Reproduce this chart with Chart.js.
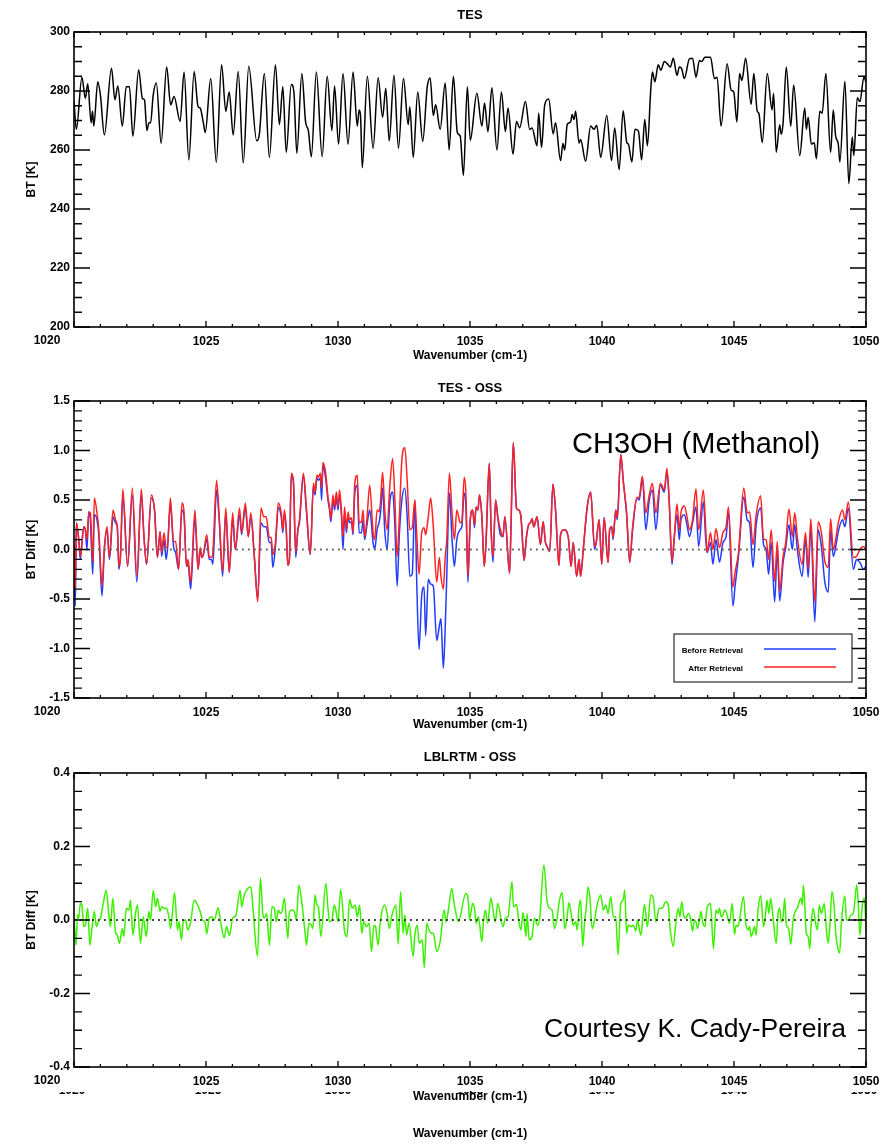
<!DOCTYPE html>
<html>
<head>
<meta charset="utf-8">
<script src="https://cdn.jsdelivr.net/npm/chart.js@4.4.1/dist/chart.umd.min.js"></script>
<style>
  body { margin: 0; background: #fff; width: 881px; height: 1144px; position: relative; overflow: hidden;
         font-family: "Liberation Sans", Arial, Helvetica, sans-serif; }
  .panel { position: absolute; left: 0; width: 881px; }
  .nota { position: absolute; color: #000; white-space: nowrap; line-height: 1; }
  .corte { position: absolute; left: 0; width: 881px; overflow: hidden; }
  .corte span { position: absolute; font-weight: bold; font-size: 12px; transform: translateX(-50%); line-height: 1; }
  .ejeX { position: absolute; font-weight: bold; font-size: 12px; transform: translateX(-50%); white-space: nowrap; line-height: 1; }
</style>
</head>
<body>
<div class="panel" style="top:0;height:372px"><canvas id="tes"></canvas></div>
<div class="panel" style="top:372px;height:370px"><canvas id="oss"></canvas></div>
<div class="panel" style="top:742px;height:402px"><canvas id="lbl"></canvas></div>

<div class="nota" style="left:572px;top:429px;font-size:29px">CH3OH (Methanol)</div>
<div class="nota" style="left:544px;top:1015px;font-size:26.5px">Courtesy K. Cady-Pereira</div>

<div class="corte" id="corte" style="top:1092px;height:4px"></div>
<div class="ejeX" style="left:470px;top:1127px">Wavenumber (cm-1)</div>

<script>
// DATOS
// TES: temperatura de brillo (K)
const tesWn = [
  1020.00,1020.09,1020.30,1020.43,1020.52,1020.65,1020.70,1020.75,1020.90,1021.00,1021.15,1021.42,1021.55,1021.66,1021.83,1021.98,1022.10,1022.23,1022.45,1022.59,1022.67,1022.76,1022.84,1022.90,1023.00,1023.12,1023.30,1023.51,1023.66,1023.79,1024.02,1024.17,1024.35,1024.55,1024.70,1024.78,1024.90,1024.97,1025.18,1025.39,1025.59,1025.75,1025.88,1026.03,1026.22,1026.41,1026.62,1026.92,1027.02,1027.21,1027.40,
  1027.63,1027.78,1027.91,1028.04,1028.23,1028.33,1028.44,1028.63,1028.77,1028.88,1028.99,1029.18,1029.40,1029.59,1029.77,1029.87,1030.02,1030.19,1030.38,1030.57,1030.73,1030.80,1030.85,1030.92,1031.11,1031.33,1031.52,1031.69,1031.81,1031.94,1032.12,1032.29,1032.48,1032.66,1032.72,1032.85,1033.02,1033.21,1033.38,1033.49,1033.61,1033.70,1033.87,1034.06,1034.21,1034.37,1034.52,1034.63,1034.75,1034.90,
  1035.01,1035.26,1035.45,1035.55,1035.68,1035.83,1036.02,1036.19,1036.34,1036.44,1036.63,1036.76,1036.88,1037.10,1037.26,1037.35,1037.54,1037.60,1037.71,1037.83,1037.98,1038.15,1038.24,1038.43,1038.52,1038.59,1038.68,1038.81,1038.87,1038.94,1039.00,1039.13,1039.19,1039.38,1039.57,1039.70,1039.80,1039.95,1040.18,1040.36,1040.48,1040.65,1040.80,1040.94,1041.00,1041.13,1041.25,1041.38,1041.50,1041.62,1041.72,1041.85,1041.91,1042.00,1042.13,1042.23,1042.36,
  1042.48,1042.59,1042.70,1042.84,1042.93,1043.02,1043.12,1043.31,1043.43,1043.56,1043.69,1043.78,1043.90,1044.11,1044.26,1044.36,1044.51,1044.74,1044.89,1044.99,1045.11,1045.21,1045.30,1045.44,1045.65,1045.75,1045.88,1045.94,1046.07,1046.26,1046.44,1046.50,1046.60,1046.73,1046.79,1046.86,1046.98,1047.15,1047.26,1047.49,1047.68,1047.74,1047.81,1047.93,1048.04,1048.12,1048.25,1048.34,1048.48,1048.66,1048.76,1048.85,1048.95,1049.01,1049.20,1049.35,1049.48,1049.54,1049.67,1049.77,1049.92,1050.00
]
const tesBT = [
  276.4,267.0,284.7,277.5,282.5,269.2,273.1,268.1,283.1,278.6,265.1,287.7,277.0,281.7,268.1,281.4,281.4,264.7,287.2,277.5,277.0,266.6,269.2,269.2,278.6,282.7,262.3,288.1,275.3,278.1,269.7,286.4,256.6,286.6,274.7,274.2,269.2,265.9,284.2,255.8,288.9,273.1,279.7,265.1,286.6,255.6,288.4,263.1,265.3,285.9,257.5,
  288.9,268.6,281.4,259.2,282.2,279.7,258.9,285.9,269.7,266.4,257.7,286.4,257.7,285.0,266.6,281.7,262.0,285.9,262.0,286.4,268.1,273.6,272.0,254.0,285.0,260.6,284.5,271.1,280.9,263.1,285.3,260.6,284.2,268.6,274.7,257.5,279.7,262.9,281.4,284.4,271.7,275.3,267.0,282.7,260.0,285.0,265.9,264.7,251.4,281.4,
  263.3,279.2,268.1,275.9,266.2,281.1,260.0,279.7,266.2,274.2,258.6,269.7,267.5,276.4,267.0,267.5,261.4,272.5,260.9,275.3,277.3,265.5,269.2,256.4,262.2,260.0,268.6,269.5,272.0,270.3,273.1,262.3,263.6,256.2,268.1,267.0,268.4,257.5,271.7,256.4,267.5,253.3,273.3,262.5,262.0,255.9,267.0,266.4,256.6,270.3,261.4,280.9,286.4,283.1,288.9,287.0,290.0,
  289.2,288.1,291.1,285.3,288.1,287.5,284.2,290.9,291.1,284.7,290.3,290.0,291.4,291.4,284.2,284.7,268.1,289.2,280.3,279.7,269.5,285.9,283.6,291.1,275.5,285.9,273.1,272.5,262.5,285.9,273.6,279.2,259.2,268.6,265.3,269.2,288.1,268.1,282.0,258.1,274.2,267.0,271.1,262.0,262.5,257.0,273.1,272.5,285.9,259.2,273.6,264.7,262.0,255.9,283.3,248.6,264.4,258.1,277.7,276.4,284.7,283.0
]

// TES - OSS: diferencia antes / despues de la recuperacion (K)
const ossWn = [
  1020.00,1020.05,1020.09,1020.18,1020.24,1020.37,1020.43,1020.49,1020.56,1020.62,1020.71,1020.77,1020.87,1020.94,1021.06,1021.15,1021.25,1021.34,1021.48,1021.57,1021.64,1021.70,1021.76,1021.85,1022.03,1022.21,1022.38,1022.55,1022.65,1022.75,1022.93,1023.05,1023.16,1023.26,1023.32,1023.41,1023.49,1023.54,1023.65,1023.77,1023.85,1023.96,1024.09,1024.17,1024.26,1024.32,1024.42,1024.58,1024.70,1024.78,1024.84,1024.90,1025.03,1025.12,1025.21,1025.26,1025.40,1025.50,1025.63,1025.75,1025.88,1026.01,1026.11,1026.27,1026.35,1026.49,1026.60,1026.70,1026.83,1026.96,1027.08,1027.19,1027.28,1027.40,
  1027.47,1027.53,1027.63,1027.74,1027.85,1027.91,1027.97,1028.04,1028.10,1028.16,1028.23,1028.31,1028.40,1028.48,1028.54,1028.69,1028.80,1028.95,1029.07,1029.13,1029.20,1029.26,1029.33,1029.38,1029.43,1029.53,1029.62,1029.68,1029.73,1029.81,1029.87,1029.94,1030.00,1030.06,1030.13,1030.19,1030.25,1030.32,1030.38,1030.44,1030.51,1030.57,1030.63,1030.73,1030.80,1030.89,1030.95,1031.01,1031.10,1031.20,1031.33,1031.39,1031.48,1031.56,1031.61,1031.69,1031.77,1031.86,1031.96,1032.07,1032.15,1032.24,1032.32,1032.41,1032.53,1032.62,1032.72,1032.81,1032.91,1032.98,1033.07,1033.17,1033.26,1033.32,1033.42,1033.51,1033.61,1033.74,1033.84,1033.90,1033.99,1034.06,1034.12,1034.22,1034.32,1034.41,1034.50,1034.63,1034.69,1034.78,1034.85,1034.92,
  1035.01,1035.10,1035.17,1035.23,1035.30,1035.36,1035.45,1035.54,1035.61,1035.73,1035.80,1035.87,1035.97,1036.06,1036.15,1036.25,1036.32,1036.50,1036.55,1036.64,1036.76,1036.84,1036.93,1037.05,1037.14,1037.22,1037.29,1037.35,1037.42,1037.54,1037.67,1037.77,1037.86,1037.92,1038.02,1038.14,1038.24,1038.37,1038.43,1038.56,1038.72,1038.83,1038.91,1039.04,1039.13,1039.19,1039.29,1039.44,1039.57,1039.72,1039.78,1039.89,1039.99,1040.08,1040.23,1040.29,1040.37,1040.42,1040.52,1040.58,1040.71,1040.81,1040.93,1041.05,1041.15,1041.32,1041.41,1041.53,1041.66,1041.79,1041.91,1042.04,1042.21,1042.36,1042.46,1042.55,
  1042.65,1042.74,1042.84,1042.93,1042.99,1043.12,1043.22,1043.31,1043.43,1043.56,1043.66,1043.84,1043.93,1043.98,1044.11,1044.20,1044.32,1044.45,1044.58,1044.70,1044.79,1044.96,1045.04,1045.17,1045.37,1045.50,1045.59,1045.72,1045.84,1046.01,1046.12,1046.22,1046.31,1046.41,1046.54,1046.64,1046.73,1046.86,1046.96,1047.08,1047.21,1047.30,1047.40,1047.58,1047.71,1047.81,1047.91,1048.06,1048.19,1048.31,1048.44,1048.57,1048.66,1048.76,1048.88,1048.95,1049.11,1049.20,1049.33,1049.52,1049.64,1049.77,1049.90,1050.00
]
const antesRet = [
  0.00,-0.57,0.27,0.10,-0.10,0.23,0.20,0.00,0.38,0.30,-0.25,0.35,0.30,0.15,-0.47,0.00,0.20,-0.10,0.33,0.27,0.23,-0.20,-0.07,0.55,-0.17,0.55,-0.33,0.55,0.13,-0.15,0.52,0.40,-0.08,0.18,-0.07,0.10,-0.10,0.00,0.45,0.03,-0.03,-0.20,0.40,0.33,-0.17,-0.15,-0.40,0.33,-0.20,0.00,-0.08,-0.05,0.10,-0.10,-0.10,-0.15,0.60,0.30,-0.27,0.37,-0.23,0.30,0.00,0.35,0.15,0.43,0.13,0.33,-0.07,-0.50,0.27,0.23,0.23,0.07,
  0.07,-0.18,0.03,0.43,0.33,0.17,0.37,0.20,-0.16,-0.10,0.75,0.68,-0.08,0.20,0.27,0.75,0.40,-0.05,0.65,0.55,0.72,0.70,0.72,0.50,0.85,0.72,0.50,0.40,0.28,0.50,0.40,0.52,0.40,0.55,0.35,0.00,0.37,0.17,0.33,0.27,0.28,0.15,0.55,0.65,0.17,0.17,0.30,0.10,0.25,0.40,0.07,0.00,0.20,0.28,0.37,0.62,0.20,0.00,0.47,0.58,0.27,-0.37,0.13,0.48,0.62,0.33,-0.27,-0.25,0.50,-0.30,-1.01,-0.47,-0.38,-0.87,-0.30,-0.35,-0.37,-0.92,-0.77,-0.70,-1.20,-0.80,-0.27,0.57,0.10,-0.17,0.10,0.20,0.23,0.57,0.40,-0.33,
  0.30,0.40,0.22,0.43,0.40,0.55,0.33,-0.17,0.10,0.87,0.20,-0.13,0.50,0.30,0.15,0.13,0.33,-0.24,0.20,1.08,0.42,0.40,0.33,-0.11,0.13,0.25,0.27,0.31,0.23,0.33,0.05,0.28,0.07,0.03,-0.02,0.66,0.40,-0.16,0.15,0.20,0.13,-0.17,0.07,-0.27,-0.10,-0.27,0.00,0.43,0.58,0.00,0.07,0.30,-0.15,0.32,-0.13,0.20,0.23,0.10,0.40,0.30,0.96,0.68,0.37,-0.13,0.17,0.52,0.50,0.72,0.20,0.50,0.60,0.20,0.65,0.58,0.80,0.45,
  -0.15,0.13,0.35,0.10,0.30,0.35,0.25,0.13,0.27,0.43,0.03,0.48,0.10,-0.03,0.07,-0.15,0.10,-0.13,0.07,0.13,0.37,-0.57,-0.37,-0.07,0.53,0.30,0.27,-0.18,0.25,0.42,0.05,0.00,-0.25,0.07,-0.53,0.00,-0.52,-0.13,0.02,0.25,0.00,0.25,0.00,-0.27,0.10,-0.28,0.23,-0.73,0.20,0.03,-0.33,-0.43,0.20,-0.07,0.07,0.18,0.30,0.23,0.42,-0.20,-0.10,-0.13,-0.20,-0.17
]
const despuesRet = [
  0.05,-0.40,0.27,0.10,-0.07,0.23,0.20,0.10,0.38,0.37,-0.13,0.52,0.37,0.20,-0.37,0.02,0.23,-0.08,0.40,0.30,0.23,-0.17,-0.07,0.61,-0.17,0.62,-0.27,0.61,0.13,-0.15,0.55,0.40,-0.08,0.18,-0.03,0.17,0.02,0.02,0.52,0.08,0.08,-0.20,0.47,0.37,-0.17,-0.10,-0.33,0.40,-0.20,0.02,-0.08,-0.05,0.15,-0.07,-0.08,-0.03,0.70,0.33,-0.22,0.42,-0.23,0.37,0.00,0.42,0.17,0.47,0.13,0.37,-0.07,-0.53,0.42,0.33,0.33,0.12,
  0.12,-0.05,0.07,0.47,0.37,0.20,0.40,0.20,-0.16,-0.10,0.77,0.70,-0.03,0.20,0.30,0.77,0.43,-0.05,0.67,0.58,0.75,0.73,0.77,0.62,0.88,0.78,0.53,0.43,0.31,0.55,0.43,0.58,0.43,0.60,0.38,0.13,0.43,0.20,0.38,0.30,0.32,0.17,0.65,0.75,0.27,0.28,0.40,0.13,0.32,0.65,0.17,0.10,0.40,0.38,0.48,0.78,0.40,0.20,0.63,0.92,0.53,-0.07,0.30,0.87,1.03,0.70,0.20,0.22,0.50,0.17,-0.25,0.17,0.22,0.15,0.33,0.52,0.23,-0.33,-0.08,-0.27,-0.40,-0.08,0.10,0.77,0.37,0.10,0.40,0.27,0.28,0.73,0.53,-0.27,
  0.30,0.40,0.25,0.43,0.40,0.55,0.33,-0.17,0.10,0.87,0.20,-0.07,0.50,0.32,0.20,0.13,0.33,-0.24,0.20,1.08,0.42,0.40,0.33,-0.11,0.13,0.25,0.27,0.31,0.23,0.33,0.05,0.28,0.07,0.03,-0.02,0.66,0.40,-0.16,0.15,0.20,0.13,-0.17,0.07,-0.27,-0.10,-0.27,0.00,0.43,0.58,0.03,0.07,0.30,-0.15,0.32,-0.13,0.20,0.23,0.12,0.40,0.32,0.96,0.68,0.37,-0.13,0.20,0.52,0.53,0.74,0.37,0.55,0.67,0.37,0.67,0.60,0.82,0.47,
  -0.12,0.13,0.46,0.20,0.37,0.44,0.33,0.20,0.30,0.61,0.20,0.60,0.20,-0.03,0.17,0.00,0.21,0.02,0.17,0.23,0.43,-0.38,-0.23,-0.03,0.62,0.37,0.38,0.05,0.35,0.54,0.10,0.10,-0.10,0.20,-0.32,0.08,-0.42,-0.07,0.07,0.41,0.13,0.37,0.12,-0.15,0.17,-0.20,0.31,-0.53,0.28,0.17,-0.12,-0.18,0.31,0.00,0.15,0.27,0.40,0.30,0.48,-0.08,-0.07,0.00,0.03,0.00
]

// LBLRTM - OSS (K)
const lblWn = [
  1020.00,1020.04,1020.08,1020.13,1020.18,1020.24,1020.30,1020.37,1020.43,1020.52,1020.60,1020.68,1020.77,1020.85,1020.94,1021.00,1021.10,1021.22,1021.32,1021.38,1021.47,1021.57,1021.64,1021.72,1021.83,1021.89,1021.98,1022.08,1022.14,1022.23,1022.33,1022.40,1022.52,1022.62,1022.74,1022.83,1022.90,1023.00,1023.09,1023.16,1023.26,1023.32,1023.41,1023.51,1023.60,1023.66,1023.81,1023.92,1023.98,1024.07,1024.14,1024.23,1024.30,1024.42,1024.55,1024.68,1024.78,1024.87,1024.96,1025.03,1025.12,1025.21,1025.31,1025.46,1025.56,1025.69,1025.78,1025.89,1026.01,1026.13,1026.29,1026.35,1026.45,1026.58,1026.70,1026.78,1026.95,1027.06,1027.15,1027.21,1027.30,1027.40,1027.50,
  1027.59,1027.66,1027.74,1027.81,1027.88,1027.97,1028.10,1028.16,1028.26,1028.35,1028.42,1028.52,1028.64,1028.73,1028.81,1028.90,1028.99,1029.05,1029.13,1029.20,1029.26,1029.35,1029.54,1029.62,1029.68,1029.77,1029.86,1029.94,1030.00,1030.10,1030.25,1030.34,1030.44,1030.54,1030.65,1030.73,1030.82,1030.90,1030.98,1031.08,1031.18,1031.27,1031.36,1031.42,1031.52,1031.61,1031.77,1031.86,1031.94,1032.03,1032.19,1032.28,1032.37,1032.47,1032.53,1032.60,1032.69,1032.85,1032.91,1033.00,1033.08,1033.19,1033.27,1033.36,1033.45,1033.52,1033.61,1033.74,1033.87,1034.02,1034.09,1034.18,1034.31,1034.40,1034.56,1034.84,1034.94,
  1034.98,1035.03,1035.10,1035.17,1035.23,1035.32,1035.45,1035.51,1035.58,1035.67,1035.79,1035.89,1035.96,1036.05,1036.25,1036.34,1036.44,1036.59,1036.65,1036.76,1036.84,1036.93,1037.01,1037.12,1037.16,1037.24,1037.35,1037.44,1037.57,1037.64,1037.80,1037.92,1038.02,1038.11,1038.20,1038.30,1038.39,1038.49,1038.59,1038.68,1038.75,1038.83,1038.91,1039.00,1039.06,1039.13,1039.19,1039.27,1039.34,1039.40,1039.47,1039.54,1039.63,1039.72,1039.80,1039.95,1040.05,1040.14,1040.23,1040.33,1040.43,1040.52,1040.61,1040.71,1040.80,1040.86,1040.93,1041.00,1041.09,1041.19,1041.28,1041.34,1041.47,1041.61,1041.72,1041.85,1041.94,1042.04,1042.17,1042.27,1042.42,
  1042.51,1042.58,1042.70,1042.80,1042.89,1042.95,1043.02,1043.09,1043.18,1043.27,1043.35,1043.43,1043.50,1043.56,1043.62,1043.69,1043.75,1043.81,1043.90,1043.94,1043.98,1044.11,1044.22,1044.32,1044.39,1044.45,1044.51,1044.58,1044.64,1044.70,1044.83,1044.93,1045.02,1045.08,1045.15,1045.21,1045.36,1045.44,1045.53,1045.59,1045.65,1045.72,1045.78,1045.84,1045.91,1046.01,1046.12,1046.18,1046.25,1046.32,1046.39,1046.48,1046.60,1046.67,1046.73,1046.79,1046.86,1046.92,1046.98,1047.07,1047.15,1047.24,1047.32,1047.40,1047.53,1047.58,1047.63,1047.74,1047.81,1047.87,1047.93,1048.00,1048.09,1048.16,1048.23,1048.31,1048.42,1048.50,1048.57,1048.63,1048.71,1048.80,1048.85,1048.91,1049.00,1049.07,1049.20,1049.26,1049.33,1049.43,1049.52,1049.65,1049.71,1049.77,1049.86,1049.94,1050.00
]
const lblDif = [
  0.000,-0.036,-0.068,0.014,0.005,0.045,0.041,-0.018,-0.014,0.032,-0.068,-0.023,0.023,-0.018,0.000,0.005,0.041,0.081,0.014,-0.018,0.059,-0.032,-0.041,-0.063,-0.023,-0.045,0.032,0.027,0.054,-0.041,0.018,0.041,-0.063,0.009,-0.045,0.023,0.000,0.081,0.036,0.059,0.023,0.036,0.032,0.032,0.005,-0.023,0.075,-0.027,-0.005,-0.054,-0.005,0.000,-0.027,-0.005,0.054,0.041,0.023,0.000,-0.005,-0.038,0.005,0.009,0.000,0.033,-0.009,-0.048,-0.018,-0.042,0.005,0.012,0.081,0.036,0.068,0.086,0.090,0.032,-0.099,0.114,0.018,0.005,0.018,-0.068,0.036,
  0.032,-0.005,0.027,0.018,0.023,0.060,-0.050,0.023,0.027,0.023,0.000,0.095,0.041,-0.018,-0.068,-0.009,-0.014,-0.023,0.068,0.041,0.036,-0.045,0.100,0.032,-0.005,0.000,0.041,0.018,-0.005,0.083,-0.032,-0.045,0.056,0.032,0.041,0.009,0.041,-0.036,-0.005,-0.018,-0.009,-0.086,-0.014,-0.018,-0.068,0.000,0.041,0.018,-0.023,0.009,0.041,-0.066,0.077,-0.036,0.014,-0.041,-0.009,-0.099,-0.041,-0.014,-0.063,-0.054,-0.129,-0.009,-0.027,-0.036,-0.036,-0.086,-0.059,0.027,-0.005,0.027,0.086,0.045,-0.005,0.072,0.050,
  0.000,0.018,0.045,0.032,-0.009,0.009,-0.059,-0.005,0.027,-0.009,0.060,0.018,-0.005,0.045,-0.018,0.005,0.009,0.104,0.036,0.042,0.000,-0.027,0.021,-0.045,0.018,-0.054,-0.045,0.005,-0.014,0.005,0.150,0.050,0.032,0.027,-0.023,0.005,0.054,0.075,-0.024,0.009,0.047,0.018,-0.014,-0.005,-0.027,0.036,0.054,-0.072,-0.005,0.032,0.090,0.063,-0.023,0.000,0.036,0.068,0.027,0.041,0.018,0.063,0.009,0.009,-0.095,0.045,0.054,0.081,-0.036,-0.014,-0.018,-0.014,-0.030,0.000,-0.041,0.042,-0.018,0.068,0.059,-0.005,0.032,0.032,0.050,
  0.041,-0.023,-0.072,-0.005,0.032,0.009,0.050,0.014,0.005,0.018,0.005,-0.030,0.000,-0.005,-0.023,0.000,0.023,-0.005,-0.018,0.009,0.033,0.045,-0.078,0.027,0.018,0.032,0.009,0.014,0.027,0.023,-0.009,0.045,-0.039,-0.014,-0.018,0.000,0.063,-0.005,-0.027,-0.018,-0.045,-0.032,-0.018,-0.041,0.027,0.066,-0.018,0.005,0.054,0.018,0.059,0.005,-0.063,0.018,0.032,-0.005,0.009,0.059,-0.014,-0.023,-0.066,0.000,0.023,0.032,0.059,0.041,0.095,-0.036,-0.045,-0.079,-0.005,0.032,-0.009,-0.027,0.041,0.018,0.045,-0.027,-0.063,-0.018,0.077,0.032,-0.032,-0.068,-0.090,-0.005,0.065,0.000,0.000,0.014,0.018,0.096,0.041,-0.041,0.041,0.059,-0.030
]

const ticksX = [1020, 1025, 1030, 1035, 1040, 1045, 1050]
const fuenteCanvas = 'bold 12px "Liberation Sans", Arial, sans-serif'

// FUNCIONES
function puntos(xs, ys) {
  return xs.map((x, i) => ({ x: x, y: ys[i] }))
}

function lineaCero(color) {
  return {
    data: [{ x: 1020, y: 0 }, { x: 1050, y: 0 }],
    borderColor: color,
    borderWidth: 1.8,
    borderDash: [1.8, 4.2],
    pointRadius: 0,
    order: -1,
  }
}

function serie(xs, ys, color, orden) {
  return {
    data: puntos(xs, ys),
    borderColor: color,
    borderWidth: 1.5,
    pointRadius: 0,
    cubicInterpolationMode: 'monotone',
    order: orden,
  }
}

// marco con marcas hacia dentro, al estilo IDL
const marcoIDL = {
  id: 'marcoIDL',
  afterDatasetsDraw(chart, args, opts) {
    const { ctx, chartArea: a } = chart
    const x = chart.scales.x
    const y = chart.scales.y
    ctx.save()
    ctx.strokeStyle = '#000'
    ctx.lineWidth = 1.6
    ctx.strokeRect(a.left, a.top, a.right - a.left, a.bottom - a.top)
    ctx.lineWidth = 1.3
    ctx.beginPath()
    const nx = Math.round((x.max - x.min) / opts.xMenor)
    const rx = Math.round(opts.xMayor / opts.xMenor)
    for (let i = 0; i <= nx; i++) {
      const px = x.getPixelForValue(x.min + i * opts.xMenor)
      const largo = i % rx === 0 ? 6 : 3
      ctx.moveTo(px, a.bottom); ctx.lineTo(px, a.bottom - largo)
      ctx.moveTo(px, a.top); ctx.lineTo(px, a.top + largo)
    }
    const ny = Math.round((y.max - y.min) / opts.yMenor)
    const ry = Math.round(opts.yMayor / opts.yMenor)
    for (let i = 0; i <= ny; i++) {
      const py = y.getPixelForValue(y.min + i * opts.yMenor)
      const largo = i % ry === 0 ? 16 : 8
      ctx.moveTo(a.left, py); ctx.lineTo(a.left + largo, py)
      ctx.moveTo(a.right, py); ctx.lineTo(a.right - largo, py)
    }
    ctx.stroke()
    // la etiqueta 1020 queda corrida a la izquierda del eje, como en el original
    ctx.font = fuenteCanvas
    ctx.fillStyle = '#000'
    ctx.textAlign = 'center'
    ctx.textBaseline = 'middle'
    ctx.fillText(String(ticksX[0]), x.getPixelForValue(ticksX[0]) - 27, a.bottom + 14)
    ctx.restore()
  }
}

// leyenda dentro del panel TES - OSS
const leyendaOSS = {
  id: 'leyendaOSS',
  afterDraw(chart) {
    const { ctx, chartArea: a } = chart
    const izq = a.right - 192
    const arriba = a.bottom - 64
    ctx.save()
    ctx.fillStyle = '#fff'
    ctx.fillRect(izq, arriba, 178, 48)
    ctx.strokeStyle = '#000'
    ctx.lineWidth = 1
    ctx.strokeRect(izq, arriba, 178, 48)
    ctx.font = 'bold 8px "Liberation Sans", Arial, sans-serif'
    ctx.fillStyle = '#000'
    ctx.textAlign = 'right'
    ctx.textBaseline = 'middle'
    const etiquetas = [['Before Retrieval', '#1f3cff'], ['After Retrieval', '#ff2222']]
    etiquetas.forEach((e, i) => {
      const yy = arriba + 17 + i * 18
      ctx.fillText(e[0], izq + 69, yy)
      ctx.strokeStyle = e[1]
      ctx.lineWidth = 1.6
      ctx.beginPath()
      ctx.moveTo(izq + 90, yy - 2)
      ctx.lineTo(izq + 162, yy - 2)
      ctx.stroke()
    })
    ctx.restore()
  }
}

const fuenteTicks = { family: '"Liberation Sans", Arial, sans-serif', size: 12, weight: 'bold' }
const fuenteEje = { family: '"Liberation Sans", Arial, sans-serif', size: 12, weight: 'bold' }
const fuenteTitulo = { family: '"Liberation Sans", Arial, sans-serif', size: 13, weight: 'bold' }

function graficarPanel(idCanvas, p) {
  const ctx = document.getElementById(idCanvas).getContext('2d')
  return new Chart(ctx, {
    type: 'line',
    data: { datasets: p.datasets },
    options: {
      responsive: true,
      maintainAspectRatio: false,
      animation: false,
      events: [],
      layout: { padding: { left: 20, right: 15, top: 0, bottom: 0 } },
      scales: {
        x: {
          type: 'linear',
          min: 1020,
          max: 1050,
          afterBuildTicks: s => { s.ticks = ticksX.map(v => ({ value: v })) },
          afterFit: s => { s.height = p.altoX; s.paddingLeft = 0; s.paddingRight = 0 },
          grid: { display: false, drawTicks: false },
          border: { display: false },
          ticks: { color: '#000', font: fuenteTicks, padding: 7, maxRotation: 0, autoSkip: false,
                   callback: v => (v === ticksX[0] ? '' : String(v)) },
          title: { display: true, text: 'Wavenumber (cm-1)', color: '#000', font: fuenteEje, padding: { top: 0, bottom: p.padTituloX } },
        },
        y: {
          type: 'linear',
          min: p.yMin,
          max: p.yMax,
          afterFit: s => { s.width = 54 },
          grid: { display: false, drawTicks: false },
          border: { display: false },
          ticks: { color: '#000', font: fuenteTicks, padding: 4, stepSize: p.yPaso, callback: p.formato },
          title: { display: true, text: p.tituloY, color: '#000', font: fuenteEje, padding: { top: 4, bottom: 0 } },
        },
      },
      plugins: {
        legend: { display: false },
        tooltip: { enabled: false },
        title: { display: true, text: p.titulo, color: '#000', font: fuenteTitulo, padding: p.padTitulo, fullSize: false },
        marcoIDL: { xMenor: 1, xMayor: 5, yMenor: p.yMenor, yMayor: p.yPaso },
      },
    },
    plugins: [marcoIDL].concat(p.extra || []),
  })
}

// etiquetas recortadas que asoman bajo el tercer panel
function colocarCorte() {
  const corte = document.getElementById('corte')
  const pos = [72, 208, 338, 470, 602, 734, 864]
  ticksX.forEach((v, i) => {
    const s = document.createElement('span')
    s.textContent = v
    s.style.left = pos[i] + 'px'
    s.style.top = '-8px'
    corte.appendChild(s)
  })
}

// EJECUCION
graficarPanel('tes', {
  titulo: 'TES',
  padTitulo: { top: 8, bottom: 8.4 },
  altoX: 45,
  padTituloX: 9.4,
  yMin: 200, yMax: 300, yPaso: 20, yMenor: 5,
  formato: v => String(v),
  tituloY: 'BT [K]',
  datasets: [serie(tesWn, tesBT, '#000', 0)],
})

graficarPanel('oss', {
  titulo: 'TES - OSS',
  padTitulo: { top: 8.2, bottom: 5.2 },
  altoX: 44,
  padTituloX: 10.4,
  yMin: -1.5, yMax: 1.5, yPaso: 0.5, yMenor: 0.1,
  formato: v => v.toFixed(1),
  tituloY: 'BT Diff [K]',
  datasets: [lineaCero('#666'), serie(ossWn, despuesRet, '#ff2222', 0), serie(ossWn, antesRet, '#1f3cff', 1)],
  extra: [leyendaOSS],
})

graficarPanel('lbl', {
  titulo: 'LBLRTM - OSS',
  padTitulo: { top: 7.2, bottom: 8.2 },
  altoX: 77,
  padTituloX: 40.4,
  yMin: -0.4, yMax: 0.4, yPaso: 0.2, yMenor: 0.05,
  formato: v => v.toFixed(1),
  tituloY: 'BT Diff [K]',
  datasets: [lineaCero('#333'), serie(lblWn, lblDif, '#3cf000', 0)],
})

colocarCorte()
</script>
</body>
</html>
